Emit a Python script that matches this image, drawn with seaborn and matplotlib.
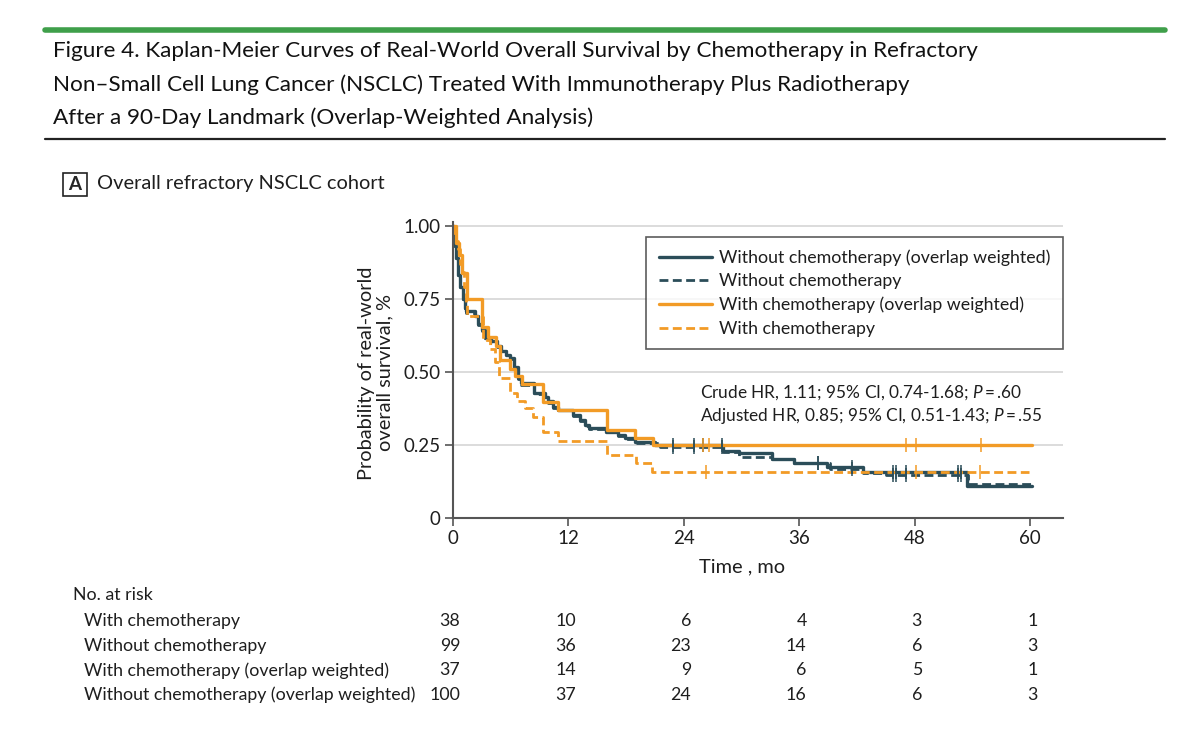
import numpy as np
import matplotlib
matplotlib.use("Agg")
import matplotlib.pyplot as plt
import matplotlib.transforms as mtransforms
from matplotlib.patches import Rectangle
import seaborn as sns

# --- data ---
# without chemotherapy (overlap weighted)
t_nw = [0, 0.1, 0.2, 0.3, 0.5, 0.7, 1.0, 1.2, 1.4, 2.3, 2.6, 3.0, 3.3, 4.0, 4.6, 5.0, 5.5, 5.9, 6.3, 6.8,
        7.1, 8.4, 9.6, 9.9, 10.4, 10.9, 12.5, 13.2, 13.7, 14.1, 15.9, 17.2, 17.9, 18.9, 21.0, 28.1, 29.7,
        33.2, 35.4, 38.9, 42.6, 53.4, 60.2]
s_nw = [1.0, 0.96, 0.93, 0.89, 0.83, 0.79, 0.75, 0.72, 0.707, 0.69, 0.665, 0.644, 0.615, 0.605, 0.587,
        0.57, 0.558, 0.547, 0.518, 0.478, 0.461, 0.427, 0.415, 0.40, 0.381, 0.37, 0.353, 0.336, 0.318,
        0.307, 0.296, 0.284, 0.273, 0.261, 0.25, 0.229, 0.221, 0.201, 0.187, 0.176, 0.158, 0.111, 0.111]
cens_nw = [22.9, 25.0, 26.0, 28.0, 37.9, 41.5, 45.7, 46.0, 47.1, 52.5, 52.8]

# without chemotherapy
t_n = [0, 0.1, 0.2, 0.3, 0.5, 0.7, 1.0, 1.2, 1.4, 2.3, 2.6, 3.0, 3.3, 4.0, 4.6, 5.0, 5.5, 5.9, 6.3, 6.8,
       7.1, 8.4, 9.6, 9.9, 10.4, 10.9, 12.5, 13.2, 13.7, 14.1, 15.9, 17.2, 17.9, 18.9, 21.5, 28.1, 29.7,
       33.2, 35.4, 39.2, 42.6, 45.0, 53.5, 60.2]
s_n = [1.0, 0.96, 0.92, 0.89, 0.83, 0.79, 0.75, 0.72, 0.70, 0.69, 0.66, 0.64, 0.615, 0.60, 0.585,
       0.57, 0.555, 0.545, 0.515, 0.475, 0.455, 0.425, 0.41, 0.395, 0.378, 0.368, 0.35, 0.333, 0.315,
       0.305, 0.293, 0.28, 0.27, 0.258, 0.244, 0.227, 0.208, 0.201, 0.187, 0.167, 0.153, 0.147, 0.116, 0.116]
cens_n = [22.9, 25.0, 28.0, 37.9, 41.5, 45.7, 46.0, 47.1, 52.5, 52.8]

# with chemotherapy (overlap weighted)
t_cw = [0, 0.3, 0.6, 0.9, 1.5, 3.0, 3.6, 4.5, 4.9, 5.9, 6.4, 7.2, 9.4, 10.9, 16.0, 18.9, 20.8, 60.2]
s_cw = [1.0, 0.94, 0.90, 0.84, 0.75, 0.655, 0.62, 0.587, 0.54, 0.51, 0.485, 0.46, 0.398, 0.37, 0.30,
        0.275, 0.25, 0.25]
cens_cw = [26.0, 26.6, 47.1, 48.1, 54.9]

# with chemotherapy
t_c = [0, 0.15, 0.3, 0.5, 0.7, 0.9, 1.1, 1.3, 1.45, 3.1, 3.8, 4.4, 4.8, 5.9, 6.6, 7.5, 8.3, 9.4, 10.9,
       16.0, 19.0, 20.7, 59.9]
s_c = [1.0, 0.974, 0.947, 0.921, 0.868, 0.842, 0.79, 0.737, 0.69, 0.61, 0.58, 0.535, 0.478, 0.427,
       0.40, 0.375, 0.347, 0.296, 0.263, 0.215, 0.187, 0.158, 0.158]
cens_c = [26.3, 48.1, 54.8]

risk_times = [0, 12, 24, 36, 48, 60]
risk_labels = ["With chemotherapy", "Without chemotherapy",
               "With chemotherapy (overlap weighted)", "Without chemotherapy (overlap weighted)"]
risk_c = [38, 10, 6, 4, 3, 1]
risk_n = [99, 36, 23, 14, 6, 3]
risk_cw = [37, 14, 9, 6, 5, 1]
risk_nw = [100, 37, 24, 16, 6, 3]

title_lines = ["Figure 4. Kaplan-Meier Curves of Real-World Overall Survival by Chemotherapy in Refractory",
               "Non\u2013Small Cell Lung Cancer (NSCLC) Treated With Immunotherapy Plus Radiotherapy",
               "After a 90-Day Landmark (Overlap-Weighted Analysis)"]

DARK = "#2b4d59"
ORANGE = "#f29b26"
TXT = "#1e1e1e"

sns.set_style("white")
plt.rcParams["font.family"] = ["Lato", "DejaVu Sans"]
plt.rcParams["mathtext.fontset"] = "custom"
plt.rcParams["mathtext.it"] = "Lato:italic"
plt.rcParams["mathtext.rm"] = "Lato"

fig = plt.figure(figsize=(12, 7.42), dpi=100)
ax = fig.add_axes([453 / 1200, 1 - 518 / 742, (1063 - 453) / 1200, (518 - 222) / 742])


def surv_at(ts, ss, x):
    i = np.searchsorted(ts, x, side="right") - 1
    return ss[i]


curves = [
    (t_nw, s_nw, cens_nw, DARK, "-", "Without chemotherapy (overlap weighted)", 2.4),
    (t_n, s_n, cens_n, DARK, (0, (3.2, 1.6)), "Without chemotherapy", 2.0),
    (t_cw, s_cw, cens_cw, ORANGE, "-", "With chemotherapy (overlap weighted)", 2.4),
    (t_c, s_c, cens_c, ORANGE, (0, (3.2, 1.6)), "With chemotherapy", 2.0),
]

for ts, ss, cs, col, ls, lab, lw in curves:
    sns.lineplot(x=ts, y=ss, ax=ax, color=col, linestyle=ls, linewidth=lw, label=lab,
                 drawstyle="steps-post", estimator=None, sort=False)
    cy = [surv_at(ts, ss, c) for c in cs]
    sns.scatterplot(x=cs, y=cy, ax=ax, marker="|", s=90, color=col, linewidth=1.1, legend=False, zorder=5)

ax.set_xlim(0, 63.4)
ax.set_ylim(0, 1.013)
ax.set_xticks(risk_times)
ax.set_yticks([0, 0.25, 0.5, 0.75, 1.0])
ax.set_yticklabels(["0", "0.25", "0.50", "0.75", "1.00"])
ax.tick_params(axis="both", labelsize=13.5, length=6, width=1.2, color="#555555", direction="out",
               pad=3, labelcolor=TXT)
ax.tick_params(axis="both", bottom=True, left=True)
ax.yaxis.grid(True, color="#d5d5d5", linewidth=1.2)
ax.set_axisbelow(True)
for side in ["top", "right"]:
    ax.spines[side].set_visible(False)
for side in ["left", "bottom"]:
    ax.spines[side].set_color("#555555")
    ax.spines[side].set_linewidth(1.5)

ax.set_xlabel("Time , mo", fontsize=14.4, color=TXT)
ax.xaxis.set_label_coords(30 / 63.4, -0.135)
ax.set_ylabel("Probability of real-world\noverall survival, %", fontsize=14.4, color=TXT,
              linespacing=1.05)
ax.yaxis.set_label_coords(-0.127, 0.49)
ax.yaxis.label.set_va("center")

leg = ax.legend(loc="upper right", bbox_to_anchor=(1.0, 0.95), fontsize=12.8, frameon=True,
                fancybox=False, edgecolor="#333333", handlelength=3.0, handletextpad=0.4,
                borderpad=0.7, labelspacing=0.42, borderaxespad=0)
leg.get_frame().set_linewidth(1.2)
for t in leg.get_texts():
    t.set_color(TXT)

ax.text(0.405, 0.422, "Crude HR, 1.11; 95% CI, 0.74-1.68; $P$\u2009=\u2009.60", transform=ax.transAxes,
        fontsize=12.4, va="center", ha="left", color=TXT)
ax.text(0.405, 0.345, "Adjusted HR, 0.85; 95% CI, 0.51-1.43; $P$\u2009=\u2009.55", transform=ax.transAxes,
        fontsize=12.4, va="center", ha="left", color=TXT)

# header
fig.add_artist(plt.Line2D([45 / 1200, 1165 / 1200], [1 - 30 / 742, 1 - 30 / 742], color="#3f9f4a",
                          linewidth=4))
for i, line in enumerate(title_lines):
    fig.text(53 / 1200, 1 - (51 + 33.5 * i) / 742, line, fontsize=16.2, va="center", ha="left",
             color="#111111")
fig.add_artist(plt.Line2D([45 / 1200, 1165 / 1200], [1 - 139 / 742, 1 - 139 / 742], color="#222222",
                          linewidth=1.6))
fig.add_artist(Rectangle((63 / 1200, 1 - 196 / 742), 24 / 1200, 23 / 742, fill=False,
                         edgecolor="#222222", linewidth=1.2, transform=fig.transFigure))
fig.text(75 / 1200, 1 - 184.5 / 742, "A", fontsize=13.5, fontweight="bold", ha="center", va="center")
fig.text(97 / 1200, 1 - 183 / 742, "Overall refractory NSCLC cohort", fontsize=14.4, ha="left",
         va="center", color=TXT)

# number at risk table
blend = mtransforms.blended_transform_factory(ax.transData, fig.transFigure)
fig.text(73 / 1200, 1 - 595 / 742, "No. at risk", fontsize=12.8, ha="left", va="center", color=TXT)
for j, (lab, row) in enumerate(zip(risk_labels, [risk_c, risk_n, risk_cw, risk_nw])):
    yy = 1 - (621 + 24.7 * j) / 742
    fig.text(84 / 1200, yy, lab, fontsize=12.8, ha="left", va="center", color=TXT)
    for tt, v in zip(risk_times, row):
        ax.text(tt + 0.75, yy, str(v), transform=blend, fontsize=12.8, ha="right", va="center",
                color=TXT, clip_on=False)

fig.savefig("out.png", dpi=100)
